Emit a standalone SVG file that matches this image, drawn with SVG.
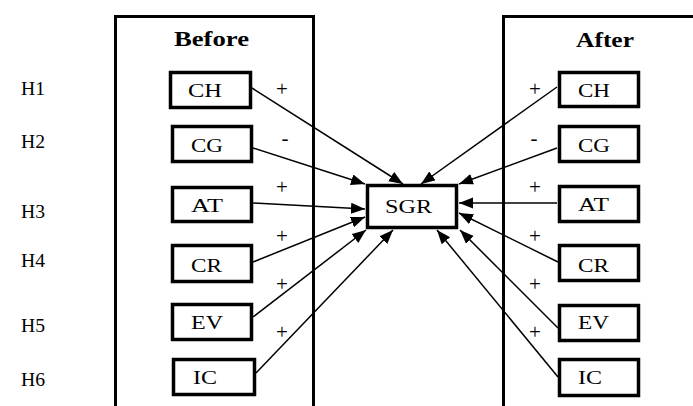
<svg xmlns="http://www.w3.org/2000/svg" width="693" height="406" viewBox="0 0 693 406">
<defs>
<style>
.panel{fill:none;stroke:#000;stroke-width:3}
.box{fill:#fff;stroke:#000;stroke-width:3.5}
.lbl{font-family:"Liberation Serif","Times New Roman",serif;font-size:19px;fill:#000}
.hd{font-family:"Liberation Serif","Times New Roman",serif;font-size:20px;font-weight:bold;fill:#000}
.sg{font-family:"Liberation Serif","Times New Roman",serif;font-size:21px;fill:#000;text-anchor:middle}
.h{font-family:"Liberation Serif","Times New Roman",serif;font-size:19px;fill:#000}
.cn line{stroke:#000;stroke-width:1.5}
</style>
<marker id="ah" markerUnits="userSpaceOnUse" markerWidth="15" markerHeight="12" refX="14" refY="5.5" orient="auto">
<path d="M0,0 L14,5.5 L0,11 Z" fill="#000"/>
</marker>
</defs>
<rect width="693" height="406" fill="#fff"/>

<g id="panel-before">
<path class="panel" d="M115.5,410 V16.5 H313.5 V410"/>
<text class="hd" x="174" y="46" textLength="75" lengthAdjust="spacingAndGlyphs">Before</text>
</g>
<g id="panel-after">
<path class="panel" d="M503.5,410 V16.5 H700"/>
<text class="hd" x="576" y="47" textLength="58" lengthAdjust="spacingAndGlyphs">After</text>
</g>

<g id="hyp-labels">
<text class="h" x="21" y="95" textLength="24" lengthAdjust="spacingAndGlyphs">H1</text>
<text class="h" x="21" y="148" textLength="24" lengthAdjust="spacingAndGlyphs">H2</text>
<text class="h" x="21" y="218" textLength="24" lengthAdjust="spacingAndGlyphs">H3</text>
<text class="h" x="21" y="267" textLength="24" lengthAdjust="spacingAndGlyphs">H4</text>
<text class="h" x="21" y="332" textLength="24" lengthAdjust="spacingAndGlyphs">H5</text>
<text class="h" x="21" y="386" textLength="24" lengthAdjust="spacingAndGlyphs">H6</text>
</g>

<g id="connectors" class="cn">
<line x1="252" y1="88" x2="403" y2="184" marker-end="url(#ah)"/>
<line x1="253" y1="148" x2="365" y2="184" marker-end="url(#ah)"/>
<line x1="253" y1="203" x2="365" y2="209" marker-end="url(#ah)"/>
<line x1="253" y1="262" x2="365" y2="217" marker-end="url(#ah)"/>
<line x1="253" y1="317" x2="366" y2="230" marker-end="url(#ah)"/>
<line x1="256" y1="373" x2="393" y2="230" marker-end="url(#ah)"/>
<line x1="557" y1="87" x2="421" y2="184" marker-end="url(#ah)"/>
<line x1="557" y1="148" x2="459" y2="184" marker-end="url(#ah)"/>
<line x1="557" y1="203" x2="459" y2="203" marker-end="url(#ah)"/>
<line x1="558" y1="262" x2="459" y2="213" marker-end="url(#ah)"/>
<line x1="558" y1="328" x2="460" y2="230" marker-end="url(#ah)"/>
<line x1="558" y1="377" x2="437" y2="230" marker-end="url(#ah)"/>
</g>

<g id="signs">
<text class="sg" x="282" y="96">+</text>
<text class="sg" x="285" y="145">-</text>
<text class="sg" x="282" y="194">+</text>
<text class="sg" x="282" y="243">+</text>
<text class="sg" x="282" y="291">+</text>
<text class="sg" x="282" y="339">+</text>
<text class="sg" x="535" y="96">+</text>
<text class="sg" x="534" y="145">-</text>
<text class="sg" x="535" y="194">+</text>
<text class="sg" x="535" y="243">+</text>
<text class="sg" x="535" y="291">+</text>
<text class="sg" x="535" y="339">+</text>
</g>

<g id="sgr">
<rect class="box" x="367.5" y="185.5" width="89" height="42"/>
<text class="lbl" x="385" y="213" textLength="47" lengthAdjust="spacingAndGlyphs">SGR</text>
</g>

<g id="before-ch"><rect class="box" x="170.5" y="72.5" width="80" height="35"/><text class="lbl" x="188" y="97" textLength="34" lengthAdjust="spacingAndGlyphs">CH</text></g>
<g id="before-cg"><rect class="box" x="172.5" y="126.5" width="79" height="35"/><text class="lbl" x="191" y="152" textLength="32" lengthAdjust="spacingAndGlyphs">CG</text></g>
<g id="before-at"><rect class="box" x="172.5" y="187.5" width="79" height="34"/><text class="lbl" x="191" y="212" textLength="32" lengthAdjust="spacingAndGlyphs">AT</text></g>
<g id="before-cr"><rect class="box" x="172.5" y="245.5" width="79" height="36"/><text class="lbl" x="191" y="272" textLength="31" lengthAdjust="spacingAndGlyphs">CR</text></g>
<g id="before-ev"><rect class="box" x="172.5" y="304.5" width="79" height="35"/><text class="lbl" x="191" y="329" textLength="32" lengthAdjust="spacingAndGlyphs">EV</text></g>
<g id="before-ic"><rect class="box" x="173.5" y="359.5" width="81" height="35"/><text class="lbl" x="193" y="384" textLength="24" lengthAdjust="spacingAndGlyphs">IC</text></g>

<g id="after-ch"><rect class="box" x="559.5" y="72.5" width="79" height="34"/><text class="lbl" x="578" y="97" textLength="32" lengthAdjust="spacingAndGlyphs">CH</text></g>
<g id="after-cg"><rect class="box" x="559.5" y="126.5" width="79" height="35"/><text class="lbl" x="578" y="152" textLength="32" lengthAdjust="spacingAndGlyphs">CG</text></g>
<g id="after-at"><rect class="box" x="559.5" y="186.5" width="79" height="35"/><text class="lbl" x="578" y="211" textLength="31" lengthAdjust="spacingAndGlyphs">AT</text></g>
<g id="after-cr"><rect class="box" x="559.5" y="245.5" width="79" height="35"/><text class="lbl" x="578" y="272" textLength="31" lengthAdjust="spacingAndGlyphs">CR</text></g>
<g id="after-ev"><rect class="box" x="559.5" y="305.5" width="79" height="35"/><text class="lbl" x="578" y="329" textLength="31" lengthAdjust="spacingAndGlyphs">EV</text></g>
<g id="after-ic"><rect class="box" x="559.5" y="359.5" width="79" height="36"/><text class="lbl" x="578" y="384" textLength="24" lengthAdjust="spacingAndGlyphs">IC</text></g>
</svg>
